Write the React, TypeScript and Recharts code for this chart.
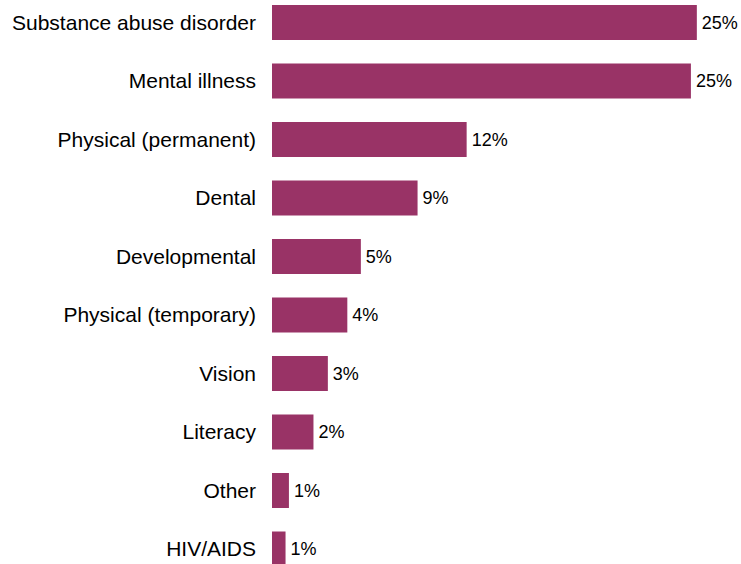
import { Bar, BarChart, LabelList, XAxis, YAxis } from 'recharts'

const categories = [
  'Substance abuse disorder',
  'Mental illness',
  'Physical (permanent)',
  'Dental',
  'Developmental',
  'Physical (temporary)',
  'Vision',
  'Literacy',
  'Other',
  'HIV/AIDS',
]

// percent of respondents
const shares = [25.1, 24.75, 11.5, 8.6, 5.25, 4.45, 3.3, 2.45, 1.0, 0.8]

const data = categories.map((name, i) => ({ name, share: shares[i] }))

const BAR_COLOR = '#993366'

export default function App() {
  return (
    <div
      style={{
        position: 'absolute',
        left: 0,
        top: 0,
        width: 741,
        height: 564,
        overflow: 'hidden',
        background: '#fff',
        fontFamily: 'Arial, "Liberation Sans", sans-serif',
      }}
    >
      <div style={{ position: 'absolute', left: 0, top: -7 }}>
        <BarChart
          width={741}
          height={585}
          data={data}
          layout="vertical"
          margin={{ top: 0, right: 12, bottom: 0, left: 0 }}
        >
          <XAxis type="number" domain={[0, 27]} hide />
          <YAxis
            type="category"
            dataKey="name"
            width={272}
            interval={0}
            tickLine={false}
            axisLine={false}
            tickSize={0}
            tickMargin={16}
            tick={{ fill: '#000', fontSize: 21 }}
          />
          <Bar dataKey="share" fill={BAR_COLOR} barSize={35} isAnimationActive={false}>
            <LabelList
              dataKey="share"
              position="right"
              offset={5}
              fill="#000"
              fontSize={18}
              formatter={(v: number) => `${Math.round(v)}%`}
            />
          </Bar>
        </BarChart>
      </div>
    </div>
  )
}
